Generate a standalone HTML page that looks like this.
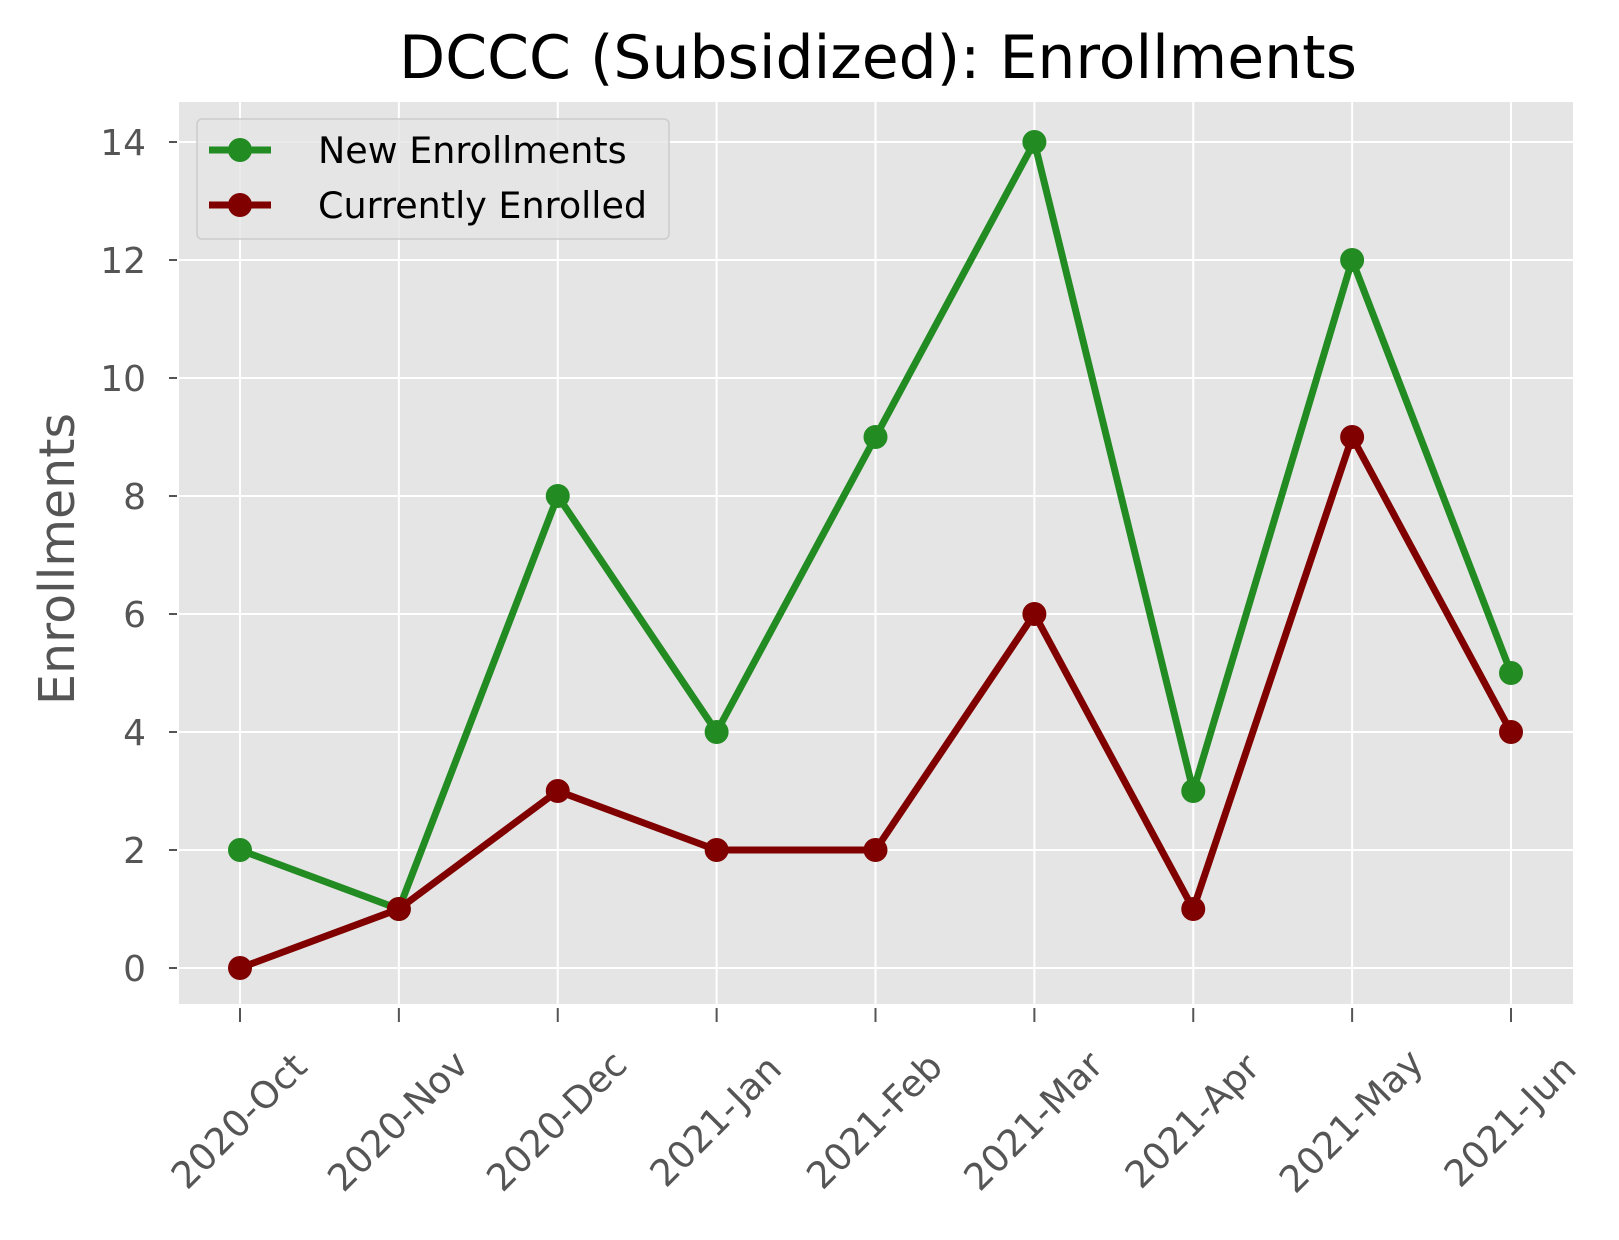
<!DOCTYPE html>
<html><head><meta charset="utf-8"><style>body{margin:0;background:#fff}svg{display:block}text{font-family:"DejaVu Sans","Liberation Sans",sans-serif}</style></head>
<body>
<svg id="chart" width="1619" height="1240" viewBox="0 0 1619 1240" xmlns="http://www.w3.org/2000/svg">
<text x="878" y="78" font-size="60" text-anchor="middle" fill="#000">DCCC (Subsidized): Enrollments</text>
<rect x="179" y="102" width="1394" height="902" fill="#e5e5e5"/>
<g id="grid"></g><g id="axes"></g><g id="series"></g>
<text transform="translate(74,559) rotate(-90)" font-size="49" text-anchor="middle" fill="#555">Enrollments</text>
<g>
<rect x="197" y="119" width="472" height="120" rx="5" fill="#e5e5e5" fill-opacity="0.8" stroke="#ccc" stroke-width="1.5"/>
<g><line x1="209" y1="150" x2="271" y2="150" stroke="#228b22" stroke-width="7"/><circle cx="240" cy="150" r="12" fill="#228b22"/><text x="318" y="163" font-size="36.5" fill="#000">New Enrollments</text></g>
<g><line x1="209" y1="205" x2="271" y2="205" stroke="#800000" stroke-width="7"/><circle cx="240" cy="205" r="12" fill="#800000"/><text x="318" y="218" font-size="36.5" fill="#000">Currently Enrolled</text></g>
</g>
</svg>
<script>
const categories=["2020-Oct","2020-Nov","2020-Dec","2021-Jan","2021-Feb","2021-Mar","2021-Apr","2021-May","2021-Jun"];
const newEnrollments=[2,1,8,4,9,14,3,12,5];
const currentlyEnrolled=[0,1,3,2,2,6,1,9,4];
const yTicks=[0,2,4,6,8,10,12,14];
const NS="http://www.w3.org/2000/svg";
function xs(i){return 240+i*(1511-240)/(categories.length-1);}
function ys(v){return 968-v*(968-142)/14;}
function mk(tag,attrs,parent){const e=document.createElementNS(NS,tag);for(const k in attrs)e.setAttribute(k,attrs[k]);parent.appendChild(e);return e;}
const grid=document.getElementById('grid'),axes=document.getElementById('axes'),series=document.getElementById('series');
yTicks.forEach(v=>{
 const y=ys(v);
 const g=mk('line',{x1:179,x2:1573,y1:y,y2:y,stroke:'#fff','stroke-width':2},grid);
 
 
 const t=mk('line',{x1:169,x2:177,y1:y,y2:y,stroke:'#555','stroke-width':2},axes);
 
 
 const l=mk('text',{x:146,y:y+13,'font-size':36,'text-anchor':'end',fill:'#555'},axes);
 l.textContent=v;
 
 
});
categories.forEach((c,i)=>{
 const x=xs(i);
 const g=mk('line',{x1:x,x2:x,y1:102,y2:1004,stroke:'#fff','stroke-width':2},grid);
 
 
 const t=mk('line',{x1:x,x2:x,y1:1008,y2:1022,stroke:'#555','stroke-width':2},axes);
 
 
 const l=mk('text',{transform:`translate(${x+8},1130) rotate(-45)`,'font-size':37,'text-anchor':'middle',fill:'#555'},axes);
 l.textContent=c;
 
 
});
function draw(vals,color,name){
 const p=mk('polyline',{points:vals.map((v,i)=>xs(i)+','+ys(v)).join(' '),fill:'none',stroke:color,'stroke-width':7,'stroke-linejoin':'round'},series);
 
 
 vals.forEach((v,i)=>{
  const c=mk('circle',{cx:xs(i),cy:ys(v),r:12,fill:color},series);
  
  
 });
}
draw(newEnrollments,'#228b22','new-enrollments');
draw(currentlyEnrolled,'#800000','currently-enrolled');
</script>
</body></html>
